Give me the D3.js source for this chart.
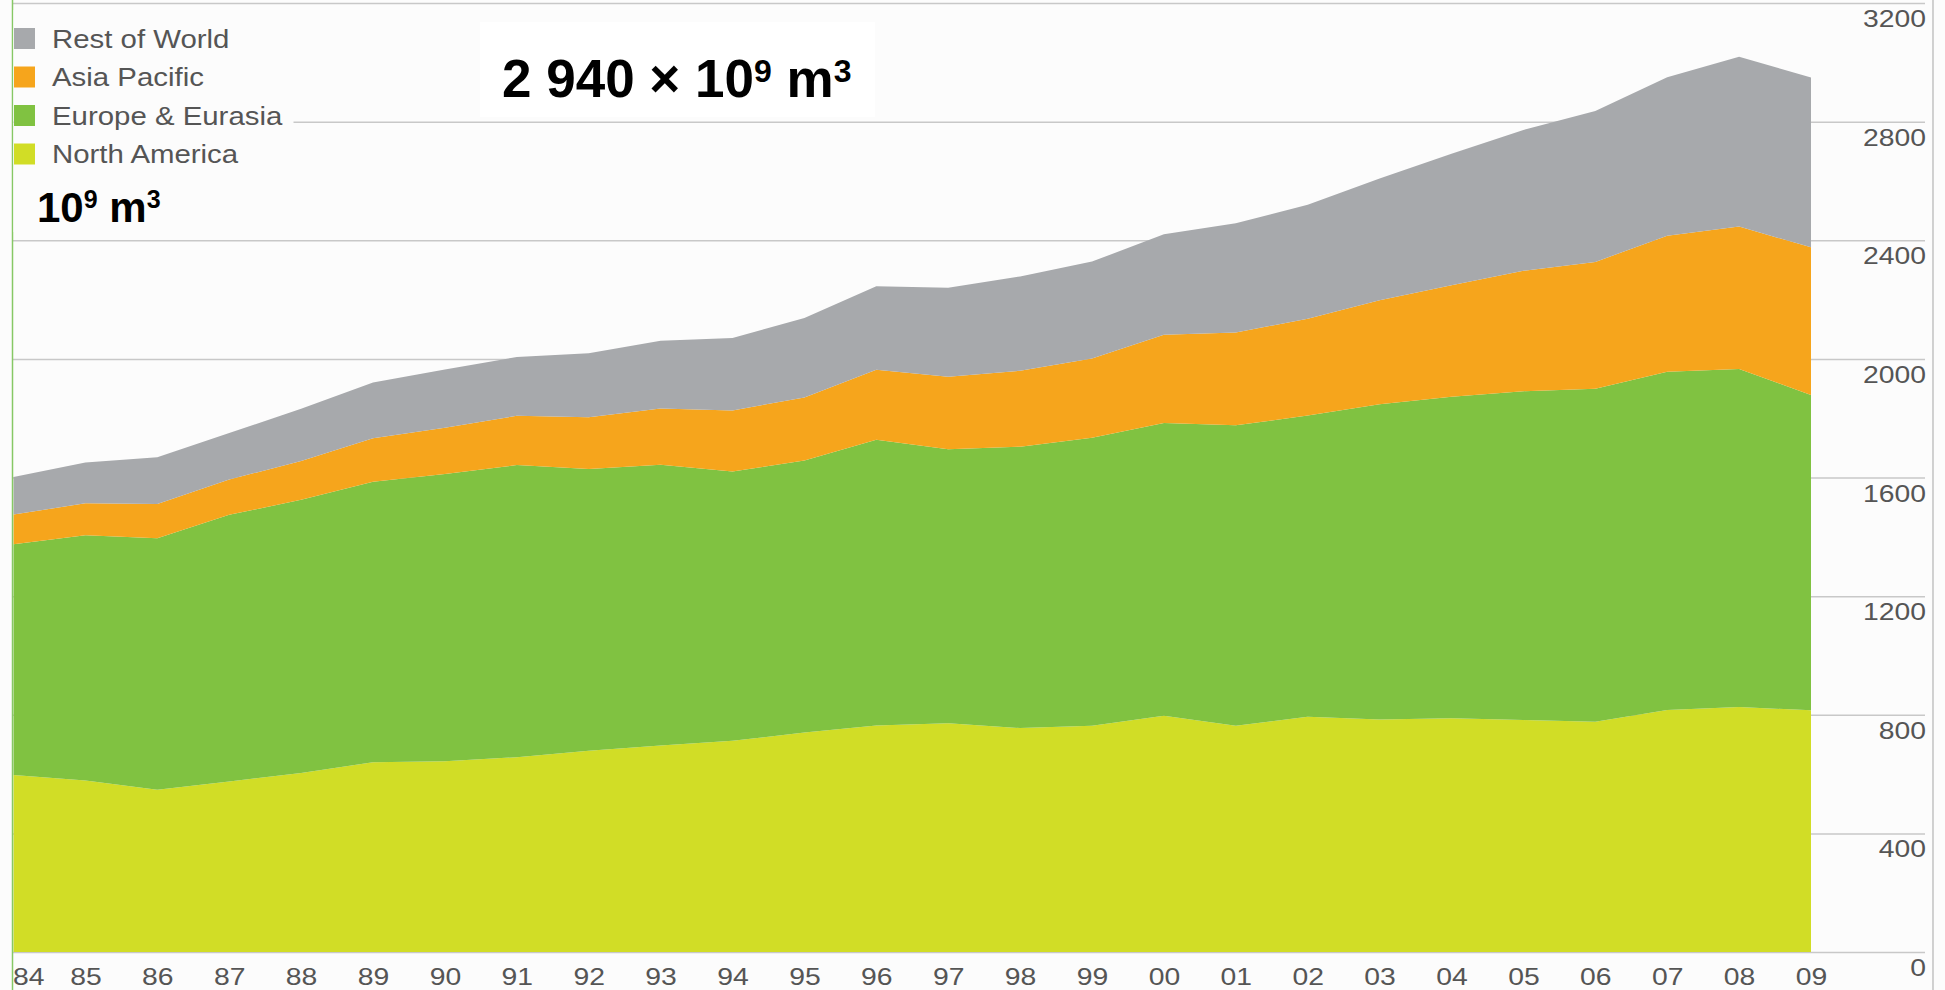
<!DOCTYPE html>
<html>
<head>
<meta charset="utf-8">
<script src="https://cdn.jsdelivr.net/npm/d3@7"></script>
<style>
  body { margin: 0; background: #fcfcfc; }
  svg { display: block; }
</style>
</head>
<body>
<svg id="chart" width="1945" height="990"></svg>
<script>
// natural gas consumption by region, 10^9 m3
const years = [1984, 1985, 1986, 1987, 1988, 1989, 1990, 1991, 1992, 1993, 1994, 1995, 1996,
  1997, 1998, 1999, 2000, 2001, 2002, 2003, 2004, 2005, 2006, 2007, 2008, 2009];
const yearLabels = ["84", "85", "86", "87", "88", "89", "90", "91", "92", "93", "94", "95", "96",
  "97", "98", "99", "00", "01", "02", "03", "04", "05", "06", "07", "08", "09"];

const northAmerica = [597, 578, 547, 575, 604, 640, 643, 657, 679, 696, 712, 740, 764,
  771, 755, 763, 797, 763, 793, 784, 788, 782, 776, 816, 826, 815];
const europeEurasia = [778, 827, 848, 899, 921, 946, 969, 985, 950, 947, 908, 917, 963,
  924, 949, 971, 987, 1013, 1016, 1063, 1084, 1109, 1123, 1141, 1140, 1063];
const asiaPacific = [100, 108, 116, 119, 131, 146, 156, 166, 174, 190, 206, 213, 236,
  245, 256, 267, 297, 313, 326, 351, 376, 406, 428, 458, 480, 498];
const restOfWorld = [127, 138, 157, 157, 176, 188, 196, 198, 216, 228, 244, 268, 282,
  300, 318, 327, 339, 368, 385, 410, 444, 475, 509, 535, 573, 573];

const yTicks = [0, 400, 800, 1200, 1600, 2000, 2400, 2800, 3200];

const seriesKeys = ["North America", "Europe & Eurasia", "Asia Pacific", "Rest of World"];
const seriesColors = ["#d1dd26", "#80c241", "#f6a51c", "#a7a9ac"];

const svg = d3.select("#chart");
const chartFont = "'Liberation Sans', Arial, sans-serif";

// widen text a bit, the original lettering is wider than Arial
function stretch(sel, k) {
  sel.each(function () {
    const w = this.getComputedTextLength();
    d3.select(this).attr("textLength", w * k).attr("lengthAdjust", "spacingAndGlyphs");
  });
}

const x = d3.scaleLinear().domain([1984, 2009]).range([13.5, 1811]);
const y = d3.scaleLinear().domain([0, 3200]).range([952, 3]);

// grid + right value axis
const yAxis = svg.append("g")
  .attr("transform", "translate(1925,0)")
  .call(d3.axisRight(y).tickValues(yTicks).tickSize(-(1925 - 12)).tickFormat(d3.format("d")));
yAxis.select(".domain").remove();
yAxis.selectAll(".tick line")
  .attr("stroke", "#c8c8c8")
  .attr("stroke-width", 1.5);
yAxis.selectAll(".tick text")
  .attr("x", 1)
  .attr("y", 23.5)
  .attr("dy", null)
  .attr("text-anchor", "end")
  .attr("fill", "#555")
  .style("font-family", chartFont)
  .style("font-size", "24px")
  .call(stretch, 1.18);

// stacked areas
const table = years.map((yr, i) => ({
  year: yr,
  "North America": northAmerica[i],
  "Europe & Eurasia": europeEurasia[i],
  "Asia Pacific": asiaPacific[i],
  "Rest of World": restOfWorld[i]
}));
const stacked = d3.stack().keys(seriesKeys)(table);

const area = d3.area()
  .x(d => x(d.data.year))
  .y0(d => y(d[0]))
  .y1(d => y(d[1]));

svg.append("g")
  .selectAll("path")
  .data(stacked)
  .join("path")
  .attr("d", area)
  .attr("fill", (d, i) => seriesColors[i]);

// year axis
const xAxis = svg.append("g")
  .attr("transform", "translate(0,952)")
  .call(d3.axisBottom(x).tickValues(years).tickSize(0).tickFormat((d, i) => yearLabels[i]));
xAxis.select(".domain").remove();
xAxis.selectAll(".tick text")
  .attr("y", 33)
  .attr("dy", null)
  .attr("fill", "#555")
  .style("font-family", chartFont)
  .style("font-size", "24px")
  .call(stretch, 1.18);
xAxis.select(".tick text").attr("text-anchor", "start").attr("x", -1);

// frame lines
svg.append("line")
  .attr("x1", 12.5).attr("x2", 12.5).attr("y1", 0).attr("y2", 990)
  .attr("stroke", "#86c865").attr("stroke-width", 1.5);
svg.append("line")
  .attr("x1", 1933).attr("x2", 1933).attr("y1", 0).attr("y2", 990)
  .attr("stroke", "#a5a5a5").attr("stroke-width", 1);

// legend
const legend = svg.append("g").attr("class", "legend");
legend.append("rect")
  .attr("x", 13.5).attr("y", 10).attr("width", 280).attr("height", 222)
  .attr("fill", "#fcfcfc");

const legendItems = seriesKeys.map((k, i) => ({ label: k, color: seriesColors[i] })).reverse();
legendItems.forEach((item, i) => {
  const g = legend.append("g").attr("transform", `translate(14, ${28 + i * 38.5})`);
  g.append("rect")
    .attr("width", 21)
    .attr("height", 21)
    .attr("fill", item.color);
  g.append("text")
    .attr("x", 38)
    .attr("y", 19.5)
    .attr("fill", "#555")
    .style("font-family", chartFont)
    .style("font-size", "26px")
    .text(item.label)
    .call(stretch, 1.13);
});

// unit label
const unit = svg.append("text")
  .attr("x", 37)
  .attr("y", 222)
  .attr("fill", "#000")
  .style("font-family", chartFont)
  .style("font-size", "42px")
  .style("font-weight", "bold");
unit.append("tspan").text("10");
unit.append("tspan").attr("dy", -14).style("font-size", "25px").text("9");
unit.append("tspan").attr("dy", 14).text(" m");
unit.append("tspan").attr("dy", -14).style("font-size", "25px").text("3");

// headline total
svg.append("rect")
  .attr("x", 480).attr("y", 22).attr("width", 395).attr("height", 95)
  .attr("fill", "#fff");
const headline = svg.append("text")
  .attr("x", 502)
  .attr("y", 97)
  .attr("fill", "#000")
  .style("font-family", chartFont)
  .style("font-size", "53px")
  .style("font-weight", "bold");
headline.append("tspan").text("2 940 × 10");
headline.append("tspan").attr("dy", -15).style("font-size", "32px").text("9");
headline.append("tspan").attr("dy", 15).text(" m");
headline.append("tspan").attr("dy", -15).style("font-size", "32px").text("3");
</script>
</body>
</html>
